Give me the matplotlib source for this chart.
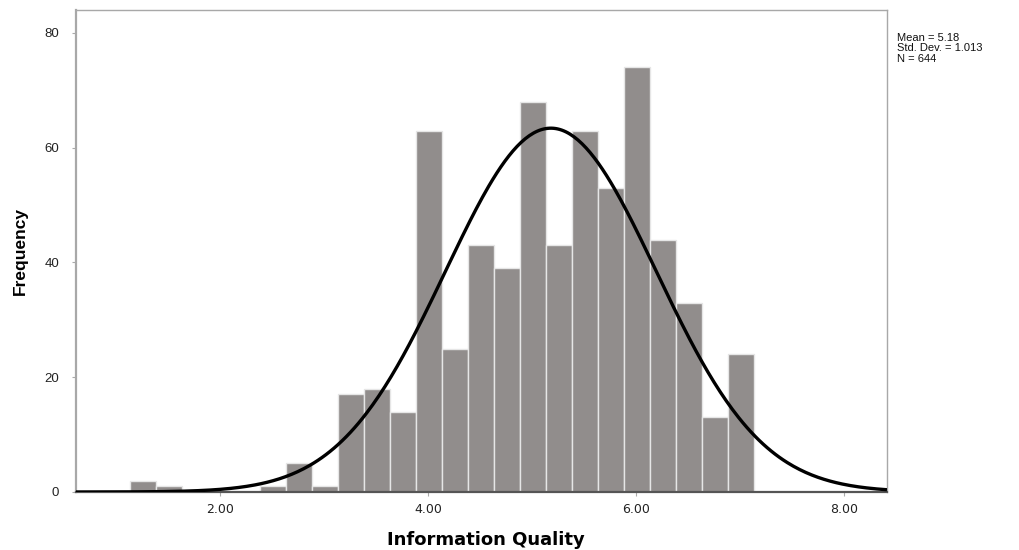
import numpy as np
import matplotlib
matplotlib.use('Agg')
import matplotlib.pyplot as plt

plt.rcParams['font.family'] = ['Liberation Sans', 'DejaVu Sans']

# histogram bins (width 0.25) and frequencies
bin_start = 1.135
bin_width = 0.25
counts = [2, 1, 0, 0, 0, 1, 5, 1, 17, 18, 14, 63, 25, 43, 39, 68, 43, 63, 53, 74, 44, 33, 13, 24]

mean = 5.18
std = 1.013
n = 644

x_ticks = [2, 4, 6, 8]
y_ticks = [0, 20, 40, 60, 80]

fig = plt.figure(figsize=(10.19, 5.5), dpi=100)
ax = fig.add_axes([76 / 1019, 58 / 550, 811 / 1019, 482 / 550])

lefts = [bin_start + i * bin_width for i in range(len(counts))]
ax.bar(lefts, counts, width=bin_width, align='edge', color='#918d8c',
       edgecolor='#e6e6e6', linewidth=1.0, zorder=2)

# normal curve from the reported statistics
xs = np.linspace(0.617, 8.41, 400)
ys = n * bin_width / (std * np.sqrt(2 * np.pi)) * np.exp(-0.5 * ((xs - mean) / std) ** 2)
ax.plot(xs, ys, color='black', linewidth=2.4, zorder=3, solid_capstyle='butt')

ax.set_xlim(0.617, 8.41)
ax.set_ylim(0, 84)
ax.set_xticks(x_ticks)
ax.set_xticklabels(['%.2f' % v for v in x_ticks])
ax.set_yticks(y_ticks)
ax.tick_params(axis='both', colors='#222222', length=3, width=0.8)
ax.tick_params(axis='both', color='#aaaaaa')
ax.tick_params(axis='x', pad=5, labelsize=9)
ax.tick_params(axis='y', pad=9, labelsize=9.5)
for lbl in ax.get_xticklabels():
    lbl.set_family(['DejaVu Sans'])

for side in ['top', 'right', 'left', 'bottom']:
    ax.spines[side].set_color('#a8a8a8')
    ax.spines[side].set_linewidth(1.0)
ax.spines['left'].set_linewidth(1.6)
ax.spines['bottom'].set_color('#555555')
ax.spines['bottom'].set_linewidth(1.6)

ax.set_xlabel('Information Quality', fontsize=13, fontweight='bold',
              family=['DejaVu Sans'], va='center')
ax.xaxis.set_label_coords(0.5 + 4 / 811, -48 / 482)
ax.set_ylabel('Frequency', fontsize=12.5, fontweight='bold', va='center')
ax.yaxis.set_label_coords(-56 / 811, 0.5)

fig.text(897 / 1019, 1 - 33 / 550,
         'Mean = %.2f\nStd. Dev. = %.3f\nN = %d' % (mean, std, n),
         fontsize=8, va='top', ha='left', linespacing=1.05, color='#111111')

plt.savefig('out.png', dpi=100)
